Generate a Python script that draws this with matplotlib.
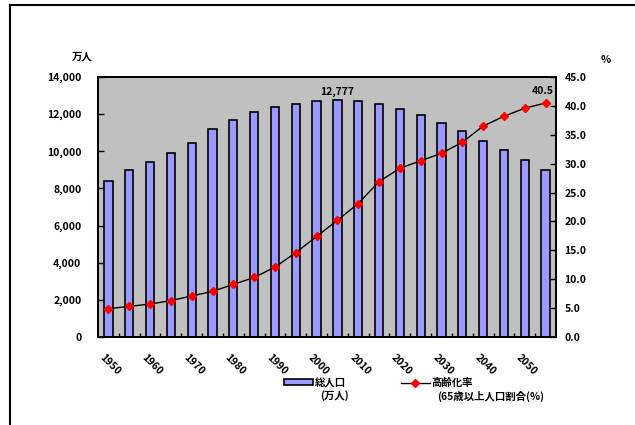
import numpy as np
import matplotlib.pyplot as plt
from matplotlib.lines import Line2D
from matplotlib.patches import Patch
from matplotlib.ticker import FuncFormatter, MultipleLocator

plt.rcParams['font.family'] = ['Noto Sans CJK JP', 'DejaVu Sans']
plt.rcParams['font.weight'] = 'bold'

years = [1950, 1955, 1960, 1965, 1970, 1975, 1980, 1985, 1990, 1995, 2000,
         2005, 2010, 2015, 2020, 2025, 2030, 2035, 2040, 2045, 2050, 2055]
population = [8411, 9008, 9430, 9921, 10467, 11194, 11706, 12105, 12361, 12557, 12693,
              12777, 12718, 12543, 12274, 11927, 11522, 11068, 10575, 10044, 9515, 8993]
aging_rate = [4.9, 5.3, 5.7, 6.3, 7.1, 7.9, 9.1, 10.3, 12.1, 14.6, 17.4,
              20.2, 23.1, 26.9, 29.2, 30.5, 31.8, 33.7, 36.5, 38.2, 39.6, 40.5]
tick_years = [1950, 1960, 1970, 1980, 1990, 2000, 2010, 2020, 2030, 2040, 2050]

x = np.arange(len(years))

fig = plt.figure(figsize=(6.35, 4.25), dpi=100)
ax = fig.add_axes([98 / 635, 88 / 425, 458 / 635, 260 / 425])
ax.set_facecolor('#C0C0C0')

ax.bar(x, population, width=0.4, color='#9999FF', edgecolor='black', linewidth=1.2, zorder=2)
ax.set_xlim(-0.5, len(years) - 0.5)
ax.set_ylim(0, 14000)
ax.yaxis.set_major_locator(MultipleLocator(2000))
ax.yaxis.set_major_formatter(FuncFormatter(lambda v, p: f'{v:,.0f}'))

ax.set_xticks([years.index(y) + 0.1 for y in tick_years])
ax.set_xticklabels([str(y) for y in tick_years], rotation=-45, ha='center', va='top')
ax.set_xticks(x[:-1] + 0.5, minor=True)
ax.tick_params(axis='x', which='major', length=0, pad=11, labelsize=7.5)
ax.tick_params(axis='x', which='minor', direction='in', length=3, width=1)
ax.tick_params(axis='y', direction='in', length=4, width=1, labelsize=7.5, pad=12)

i_peak = years.index(2005)
ax.annotate(f'{population[i_peak]:,}', (x[i_peak], population[i_peak]),
            xytext=(0, 2), textcoords='offset points', ha='center', va='bottom', fontsize=7.5)

ax2 = ax.twinx()
ax2.plot(x, aging_rate, color='black', linewidth=1, marker='D', markersize=4,
         markerfacecolor='red', markeredgecolor='red', zorder=3)
ax2.set_ylim(0, 45)
ax2.yaxis.set_major_locator(MultipleLocator(5))
ax2.yaxis.set_major_formatter(FuncFormatter(lambda v, p: f'{v:.1f}'))
ax2.tick_params(axis='y', direction='in', length=4, width=1, labelsize=7.5, pad=6)
ax2.annotate(f'{aging_rate[-1]:.1f}', (x[-1], aging_rate[-1]),
             xytext=(-2, 5), textcoords='offset points', ha='center', va='bottom', fontsize=7.5)

for a in (ax, ax2):
    for s in a.spines.values():
        s.set_linewidth(1.3)

fig.text(82 / 635, 1 - 57 / 425, '万人', ha='center', va='center', fontsize=7.5)
fig.text(606 / 635, 1 - 60 / 425, '%', ha='center', va='center', fontsize=7.5)

# 凡例
handles = [Patch(facecolor='#9999FF', edgecolor='black', linewidth=1.2),
           Line2D([], [], color='black', linewidth=1, marker='D', markersize=4,
                  markerfacecolor='red', markeredgecolor='red')]
fig.legend(handles, ['総人口', '高齢化率'], ncol=2, frameon=False, fontsize=7.5,
           loc='center left', bbox_to_anchor=(284 / 635, 1 - 383 / 425),
           handlelength=2.8, handleheight=0.5, handletextpad=0.2, columnspacing=5.2,
           borderpad=0, borderaxespad=0)
fig.text(320 / 635, 1 - 396 / 425, '(万人)', ha='left', va='center', fontsize=7.5)
fig.text(437 / 635, 1 - 396 / 425, '(65歳以上人口割合(%)', ha='left', va='center', fontsize=7.5)

# 外枠
fig.add_artist(Line2D([10 / 635, 10 / 635], [0, 1 - 5 / 425], color='black', linewidth=1.5))
fig.add_artist(Line2D([10 / 635, 1], [1 - 5 / 425, 1 - 5 / 425], color='black', linewidth=1.5))

fig.savefig('out.png', dpi=100)
